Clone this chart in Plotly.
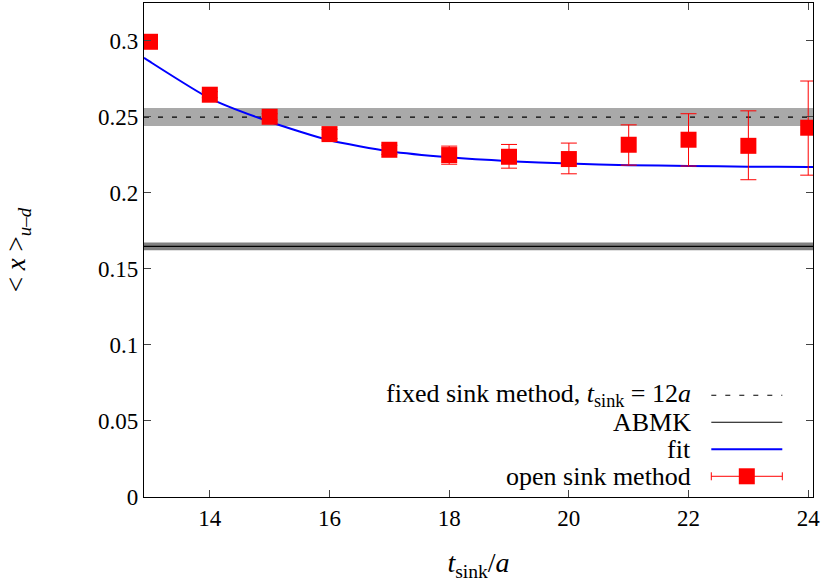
import plotly.graph_objects as go

# ---- data ----
t_sink = [13, 14, 15, 16, 17, 18, 19, 20, 21, 22, 23, 24]
x_open = [0.2993, 0.2645, 0.2500, 0.2386, 0.2283, 0.2248, 0.2237, 0.2222, 0.2316, 0.2349, 0.2309, 0.2428]
err_plus = [0.002, 0.002, 0.002, 0.003, 0.003, 0.0059, 0.0081, 0.0105, 0.0131, 0.0171, 0.0230, 0.0307]
err_minus = [0.002, 0.002, 0.002, 0.003, 0.003, 0.0060, 0.0075, 0.0097, 0.0134, 0.0173, 0.0223, 0.0312]

fit_t = [12.9, 13, 14, 15, 16, 17, 18, 19, 20, 21, 22, 23, 24, 24.08]
fit_x = [0.2888, 0.2862, 0.2621, 0.2467, 0.2345, 0.2273, 0.2233, 0.2208, 0.2192, 0.2182, 0.2176, 0.2172, 0.2170, 0.2170]

x_range = [12.9, 24.08]
fixed_val, fixed_err = 0.2498, 0.0059
abmk_val, abmk_err = 0.1648, 0.0025

x_ticks = [14, 16, 18, 20, 22, 24]
y_ticks = [0, 0.05, 0.1, 0.15, 0.2, 0.25, 0.3]
y_tick_text = ["0", "0.05", "0.1", "0.15", "0.2", "0.25", "0.3"]

legend_labels = [
    "fixed sink method, <i>t</i><sub>sink</sub> = 12<i>a</i>",
    "ABMK",
    "fit",
    "open sink method",
]

FONT = "Liberation Serif"

fig = go.Figure()

# bands
for val, err, col in [(fixed_val, fixed_err, "#a9a9a9"), (abmk_val, abmk_err, "#808080")]:
    fig.add_trace(go.Scatter(x=x_range, y=[val - err] * 2, mode="lines",
                             line=dict(width=0, color=col), showlegend=False, hoverinfo="skip"))
    fig.add_trace(go.Scatter(x=x_range, y=[val + err] * 2, mode="lines", fill="tonexty",
                             fillcolor=col, line=dict(width=0, color=col), showlegend=False,
                             hoverinfo="skip"))

# fixed sink dashed line
fig.add_trace(go.Scatter(x=x_range, y=[fixed_val] * 2, mode="lines",
                         line=dict(color="black", width=1.2, dash="5px,9px"), showlegend=False))
# ABMK line
fig.add_trace(go.Scatter(x=x_range, y=[abmk_val] * 2, mode="lines",
                         line=dict(color="black", width=1.2), showlegend=False))
# fit
fig.add_trace(go.Scatter(x=fit_t, y=fit_x, mode="lines", line_shape="spline",
                         line=dict(color="#0000ff", width=2, smoothing=0.6), showlegend=False))
# open sink points
fig.add_trace(go.Scatter(
    x=t_sink, y=x_open, mode="markers",
    marker=dict(symbol="square", size=16, color="#ff0000"),
    error_y=dict(type="data", symmetric=False, array=err_plus, arrayminus=err_minus,
                 color="#ff0000", thickness=1, width=8),
    showlegend=False, cliponaxis=True))

# manual legend (gnuplot style: text on the left, sample on the right)
L, R, T, B = 143.7, 812.7, 3.0, 496.7
W, H = R - L, B - T
def px(xp):
    return (xp - L) / W
def py(yp):
    return (B - yp) / H

rows_y = [395, 422, 449, 476]
text_right = 693
s0, s1 = 711, 782
for lab, ry in zip(legend_labels, rows_y):
    fig.add_annotation(x=px(text_right), y=py(ry), xref="paper", yref="paper",
                       text=lab, showarrow=False, xanchor="right", yanchor="middle",
                       font=dict(family=FONT, size=26, color="black"))

fig.add_shape(type="line", xref="paper", yref="paper", x0=px(s0), x1=px(s1),
              y0=py(rows_y[0]), y1=py(rows_y[0]), line=dict(color="black", width=1.2, dash="5px,9px"))
fig.add_shape(type="line", xref="paper", yref="paper", x0=px(s0), x1=px(s1),
              y0=py(rows_y[1]), y1=py(rows_y[1]), line=dict(color="black", width=1.2))
fig.add_shape(type="line", xref="paper", yref="paper", x0=px(s0), x1=px(s1),
              y0=py(rows_y[2]), y1=py(rows_y[2]), line=dict(color="#0000ff", width=2))
ry = rows_y[3]
fig.add_shape(type="line", xref="paper", yref="paper", x0=px(s0), x1=px(s1),
              y0=py(ry), y1=py(ry), line=dict(color="#ff0000", width=1))
for cx in (s0, s1):
    fig.add_shape(type="line", xref="paper", yref="paper", x0=px(cx), x1=px(cx),
                  y0=py(ry - 4), y1=py(ry + 4), line=dict(color="#ff0000", width=1))
mc = (s0 + s1) / 2
fig.add_shape(type="rect", xref="paper", yref="paper", x0=px(mc - 8), x1=px(mc + 8),
              y0=py(ry + 8), y1=py(ry - 8), line=dict(width=0), fillcolor="#ff0000")

axis_common = dict(showgrid=False, zeroline=False, showline=True, linecolor="black",
                   linewidth=1.3, mirror="allticks", ticks="inside", ticklen=7,
                   tickcolor="#444", tickwidth=1.3,
                   tickfont=dict(family=FONT, size=23, color="black"))

fig.update_layout(
    width=823, height=582,
    margin=dict(l=L, r=823 - R, t=T, b=582 - B),
    plot_bgcolor="white", paper_bgcolor="white",
    font=dict(family=FONT, color="black"),
    xaxis=dict(range=x_range, tickvals=x_ticks, ticktext=[str(v) for v in x_ticks],
               title=dict(text="<i>t</i><sub>sink</sub>/<i>a</i>", standoff=22,
                          font=dict(family=FONT, size=28)),
               **axis_common),
    yaxis=dict(range=[0, 0.3248], tickvals=y_ticks, ticktext=y_tick_text,
               title=dict(text="< <i>x</i> ><sub><i>u–d</i></sub>", standoff=64,
                          font=dict(family=FONT, size=27)),
               **axis_common),
)

fig.write_html("out.html", config={"displayModeBar": False},
               post_script="document.body.style.margin='0px';")
